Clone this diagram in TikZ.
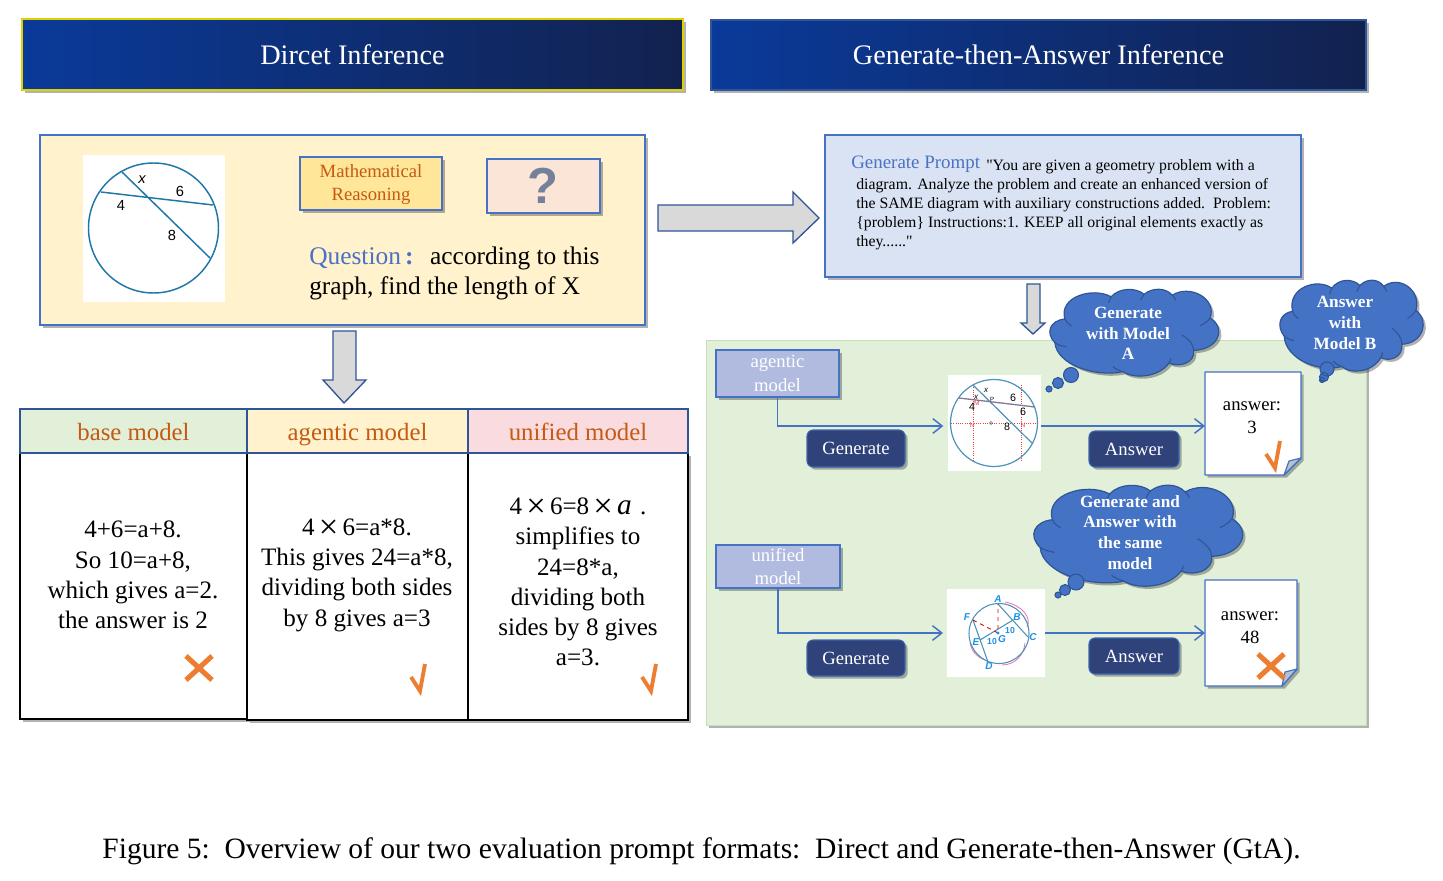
\documentclass[tikz,border=0pt]{standalone}
\usepackage{fontspec}
\setmainfont{Liberation Serif}
\newfontfamily\labelsans{Liberation Sans}
\newfontfamily\plainserif{Liberation Serif}
\usetikzlibrary{shadows,arrows.meta,calc}

\definecolor{edgeblue}{HTML}{4472C4}
\definecolor{darkedge}{HTML}{2F5597}
\definecolor{creamfill}{HTML}{FFF2CC}
\definecolor{goldfill}{HTML}{FFE699}
\definecolor{peachfill}{HTML}{FBE5D6}
\definecolor{mintfill}{HTML}{E2F0D9}
\definecolor{mintedge}{HTML}{C5E0B4}
\definecolor{pinkfill}{HTML}{FADBE0}
\definecolor{skyfill}{HTML}{DAE3F3}
\definecolor{lilacfill}{HTML}{B0BBDF}
\definecolor{navyfill}{HTML}{2F4279}
\definecolor{rusttext}{HTML}{C55A11}
\definecolor{promptblue}{HTML}{4A72C4}
\definecolor{markorange}{HTML}{ED7D31}
\definecolor{arrowgrey}{HTML}{D9D9D9}
\definecolor{circleblue}{HTML}{1F77A8}
\definecolor{auxred}{HTML}{F0404F}
\definecolor{letterblue}{HTML}{1E90E0}
\definecolor{arcpink}{HTML}{EE6FB0}
\definecolor{bannerleft}{HTML}{0A3A9A}
\definecolor{bannerright}{HTML}{12224F}
\definecolor{qgrey}{HTML}{75809A}

\newcommand{\widetimes}{\,\raisebox{-2.2pt}{\fontsize{26}{20}\selectfont ×}\,}

\tikzset{
  softshadow/.style={drop shadow={shadow xshift=2pt,shadow yshift=-2pt,fill=black,opacity=.3}},
  pxbox/.style={rectangle,inner sep=0pt,outer sep=0pt,align=center},
  panelbox/.style={pxbox,draw=edgeblue,line width=1.1pt,softshadow},
  bannerbox/.style={pxbox,line width=.8pt,left color=bannerleft,right color=bannerright,text=white,
    font=\fontsize{21.2}{25}\selectfont,softshadow},
  headerbox/.style={pxbox,draw=darkedge,line width=1.1pt,text=rusttext,text height=14pt,text depth=0pt,
    font=\fontsize{18.6}{22}\selectfont},
  bodybox/.style={pxbox,draw=black,line width=1.1pt,fill=white,softshadow},
  bodytext/.style={align=center,inner sep=0pt,font=\fontsize{18.8}{22.7}\selectfont},
  modelbox/.style={pxbox,draw=edgeblue,line width=1.3pt,fill=lilacfill,text=white,
    font=\fontsize{14}{17.5}\selectfont,softshadow},
  actionbox/.style={pxbox,rounded corners=4.5pt,draw=edgeblue!70!navyfill,line width=.8pt,fill=navyfill,text=white,
    font=\fontsize{14}{17}\selectfont,softshadow},
  blockarrow/.style={draw=darkedge,line width=1pt,fill=arrowgrey},
  flowline/.style={draw=edgeblue,line width=1.1pt,-{Straight Barb[length=7pt,width=11pt]}},
  cloudfill/.style={fill=edgeblue,draw=darkedge,line width=.9pt},
  cloudtext/.style={text=white,align=center,inner sep=0pt,font=\fontsize{12.9}{15.6}\selectfont\bfseries},
  notepage/.style={fill=white,draw=edgeblue,line width=1.1pt,line join=round,softshadow},
  notetext/.style={align=center,inner sep=0pt,font=\fontsize{14}{17.3}\selectfont},
  tickmark/.pic={\draw[markorange,line width=2.9pt,line join=miter] (-8,-1) -- (1,13) -- (6,-14);},
  crossmark/.pic={\draw[markorange,line width=3.8pt] (-13,-12) -- (13,12) (-13,12) -- (13,-12);},
  photo/.style={pxbox,fill=white},
  figlabel/.style={inner sep=0pt,font=\labelsans\fontsize{#1}{#1}\selectfont},
  ptlabel/.style={inner sep=0pt,text=auxred,font=\labelsans\fontsize{5}{5}\selectfont},
  letter/.style={inner sep=0pt,text=letterblue,font=\labelsans\fontsize{7.5}{8}\selectfont\bfseries\itshape},
}

% A rectangular node given by its pixel corners: name, style, x0, y0, x1, y1, text
\newcommand{\cornerbox}[7]{%
  \node[#2,anchor=north west,minimum width={(#5-#3)*0.75pt},minimum height={(#6-#4)*0.75pt}] (#1) at (#3,#4) {#7};%
}

% Thought-cloud outline filling the box (x0,y0)-(x1,y1), in a 0..100 local grid
\newcommand{\thoughtcloud}[4]{%
  \begin{scope}[shift={(#1,#2)},x={0.0075pt*(#3-#1)},y={-0.0075pt*(#4-#2)}]
    \path[cloudfill,softshadow] (3,62)
      .. controls (-3,50) and (0,36) .. (9,34)
      .. controls (5,8) and (26,-4) .. (37,8)
      .. controls (42,-3) and (52,-3) .. (57,5)
      .. controls (62,-3) and (70,-3) .. (74,6)
      .. controls (85,-7) and (101,10) .. (97,33)
      .. controls (107,45) and (102,70) .. (87,71)
      .. controls (88,86) and (78,91) .. (72,86)
      .. controls (65,104) and (50,104) .. (44,96)
      .. controls (28,103) and (4,88) .. (3,62) -- cycle;
    \draw[darkedge,line width=.8pt]
      (9,34) .. controls (10,38) and (11,40) .. (13,42)
      (37,8) .. controls (36,11) and (36,13) .. (35.5,15)
      (57,5) .. controls (56,8) and (55,10) .. (55,12)
      (74,6) .. controls (75,8) and (76,10) .. (76,12)
      (97,33) .. controls (95,38) and (93,40) .. (91,42)
      (87,71) .. controls (87,64) and (84,58) .. (80,53)
      (72,86) .. controls (73,84) and (73,82) .. (73,80)
      (44,96) .. controls (41,94) and (39,92) .. (38,90)
      (3,62) .. controls (5,65) and (8,66) .. (10,67);
  \end{scope}%
}

\begin{document}
\begin{tikzpicture}[x=0.75pt,y=-0.75pt]
\useasboundingbox (0,0) rectangle (1443,881);

% Title banners
\cornerbox{bannerL}{bannerbox,draw=yellow!70!olive}{22}{19}{683}{90}{Dircet Inference}
\cornerbox{bannerR}{bannerbox,draw=darkedge}{711}{20}{1366}{90}{Generate-then-Answer Inference}

% Question panel
\cornerbox{panelQ}{panelbox,fill=creamfill}{40}{135}{645}{325}{}
\cornerbox{photoQ}{photo}{83}{155}{225}{302}{}
\draw[circleblue,line width=1.1pt] (153.5,228) circle [radius=65];
\draw[circleblue,line width=1.1pt] (101,192) -- (213,205) (122,172) -- (210,258);
\node[figlabel=11] (lblX) at (142,180) {\itshape x};
\node[figlabel=11] (lblSix) at (180,191) {6};
\node[figlabel=11] (lblFour) at (121,205) {4};
\node[figlabel=11] (lblEight) at (172,235) {8};
\cornerbox{reason}{panelbox,fill=goldfill}{300}{157}{442}{210}{}
\node[align=center,inner sep=0pt,text=rusttext,font=\fontsize{14}{17.3}\selectfont] (reasonText) at (371,185) {Mathematical\\Reasoning};
\cornerbox{unknown}{panelbox,fill=peachfill}{487}{159}{600}{213}{}
\node[inner sep=0pt,text=qgrey,font=\labelsans\fontsize{38}{38}\selectfont\bfseries] (qmark) at (543,186) {?};
\node[anchor=west,align=left,inner sep=0pt,font=\fontsize{19.05}{22.6}\selectfont] (question) at (309,273)
  {{\color{promptblue}Question\,\textbf{:}}\hspace{.65em}according to this\\graph, find the length of X};

% Block arrows between the sections
\draw[blockarrow] (658,205) -- (793,205) -- (793,192) -- (819,218) -- (793,243) -- (793,231) -- (658,231) -- cycle;
\draw[blockarrow] (333,331) -- (356,331) -- (356,380) -- (366,380) -- (344,403) -- (323,380) -- (333,380) -- cycle;
\draw[blockarrow] (1027,284) -- (1040,284) -- (1040,323) -- (1045,323) -- (1033,334) -- (1021,323) -- (1027,323) -- cycle;

% Table of model results
\cornerbox{bodyA}{bodybox}{20}{453}{247}{719}{}
\cornerbox{bodyB}{bodybox}{247}{453}{468}{720}{}
\cornerbox{bodyC}{bodybox}{468}{453}{688}{720}{}
\cornerbox{headA}{headerbox,fill=mintfill}{20}{409}{247}{453}{base model}
\cornerbox{headB}{headerbox,fill=creamfill}{247}{409}{468}{453}{agentic model}
\cornerbox{headC}{headerbox,fill=pinkfill}{468}{409}{688}{453}{unified model}
\node[bodytext] (textA) at (133,575) {4+6=a+8.\\So 10=a+8,\\which gives a=2.\\the answer is 2};
\node[bodytext] (textB) at (357,575) {4\widetimes 6=a*8.\\This gives 24=a*8,\\dividing both sides\\by 8 gives a=3};
\node[bodytext] (textC) at (578,582) {4\widetimes 6=8\widetimes{\fontsize{22}{20}\selectfont\itshape a}\,\,.\\simplifies to\\24=8*a,\\dividing both\\sides by 8 gives\\a=3.};
\pic at (199,668) {crossmark};
\pic at (419,678) {tickmark};
\pic at (650,678) {tickmark};

% Generate prompt panel
\cornerbox{prompt}{panelbox,fill=skyfill}{825}{135}{1301}{277}{}
\node[anchor=base west,inner sep=0pt,text=promptblue,font=\fontsize{14.2}{17}\selectfont] (promptHead) at (851,168) {Generate Prompt};
\node[anchor=base west,inner sep=0pt,font=\plainserif\fontsize{11.85}{14}\selectfont] (promptFirst) at (986,170.5) {"You are given a geometry problem with a};
\node[anchor=north west,align=left,inner sep=0pt,font=\plainserif\fontsize{11.85}{14.3}\selectfont] (promptRest) at (856,178)
  {diagram. Analyze the problem and create an enhanced version of\\
   the SAME diagram with auxiliary constructions added.\ \ Problem:\\
   \{problem\} Instructions:1. KEEP all original elements exactly as\\
   they......"};

% Pipeline panel
\cornerbox{pipeline}{pxbox,fill=mintfill,draw=mintedge,line width=.6pt,softshadow}{706}{340}{1366}{725}{}

\cornerbox{modelA}{modelbox}{716}{350}{839}{397}{agentic\\model}
\cornerbox{modelB}{modelbox}{716}{545}{840}{588}{unified\\model}
\cornerbox{genA}{actionbox}{807}{430}{905}{467}{Generate}
\cornerbox{ansA}{actionbox}{1089}{431}{1179}{467}{Answer}
\cornerbox{genB}{actionbox}{807}{640}{905}{676}{Generate}
\cornerbox{ansB}{actionbox}{1089}{638}{1179}{674}{Answer}

% Diagram with auxiliary constructions, agentic model
\cornerbox{imgA}{photo}{948}{375}{1041}{471}{}
\draw[circleblue!80!white,line width=.9pt] (994,423) circle [radius=43.5];
\draw[auxred,densely dotted,line width=.7pt] (973,385) -- (973,461) (1021,385) -- (1021,460) (951,423) -- (1038,423);
\draw[circleblue!80!white,line width=.9pt] (959,398) -- (1035,407) (973,385) -- (1032,443);
\draw[auxred,densely dotted,line width=.7pt] (959,398) -- (1035,407);
\node[figlabel=6] (axA) at (986,390) {\itshape x};
\node[figlabel=6] (axB) at (976,397) {\itshape x};
\node[figlabel=4.5] (apP) at (992,399) {P};
\node[figlabel=8] (a6A) at (1013,398) {6};
\node[figlabel=8] (a6B) at (1023,412) {6};
\node[figlabel=8] (a4) at (972,407) {4};
\node[figlabel=8] (a8) at (1007,427) {8};
\node[ptlabel] (aM) at (977,403) {M};
\node[ptlabel] (aNA) at (972,425) {N};
\node[ptlabel] (aNB) at (1023,425) {N};
\draw[black!60,line width=.4pt] (991,423) circle [radius=1.6];

% Diagram with auxiliary constructions, unified model
\cornerbox{imgB}{photo}{947}{589}{1045}{677}{}
\draw[arcpink,line width=.6pt] (1005,602) .. controls (1022,605) and (1032,618) .. (1027,627);
\draw[arcpink,line width=.6pt] (1002,665) .. controls (1015,665) and (1024,655) .. (1025,643);
\draw[arcpink,line width=.6pt] (970,643) .. controls (972,652) and (977,657) .. (985,660);
\draw[circleblue!80!white,line width=.8pt] (999,633.5) circle [radius=30];
\draw[circleblue!80!white,line width=.8pt] (998,604) -- (1028,637) (1013,620) -- (980,640) (973,620) -- (988,662);
\draw[red!90!black,dashed,line width=.7pt] (973,620) -- (998,633) -- (998,604);
\fill[letterblue] (998,633) circle [radius=1.6];
\node[letter] (bA) at (998,599) {A};
\node[letter] (bF) at (967,617) {F};
\node[letter] (bB) at (1017,617) {B};
\node[letter] (bC) at (1033,637) {C};
\node[letter] (bE) at (976,642) {E};
\node[letter] (bG) at (1002,639) {G};
\node[letter] (bD) at (989,666) {D};
\node[letter,font=\labelsans\fontsize{6.5}{7}\selectfont\bfseries] (bTenA) at (1010,631) {10};
\node[letter,font=\labelsans\fontsize{6.5}{7}\selectfont\bfseries] (bTenB) at (992,642) {10};

% Answer pages with folded corners
\draw[notepage] (1205,372) -- (1301,372) -- (1301,458) -- (1284,475) -- (1205,475) -- cycle;
\draw[edgeblue,fill=black!15!skyfill,line width=.9pt,line join=round] (1301,458) -- (1289,461) -- (1284,475) -- cycle;
\coordinate (noteAw) at (1205,426);
\node[notetext] (noteA) at (1252,418) {answer:\\3};
\draw[notepage] (1205,580) -- (1297,580) -- (1297,669) -- (1282,686) -- (1205,686) -- cycle;
\draw[edgeblue,fill=black!15!skyfill,line width=.9pt,line join=round] (1297,669) -- (1285,672) -- (1282,686) -- cycle;
\coordinate (noteBw) at (1205,633);
\node[notetext] (noteB) at (1250,627.5) {answer:\\48};
\pic at (1274,455) {tickmark};
\pic at (1271,666) {crossmark};

% Flow connectors
\coordinate (elbowA) at (imgA.west |- noteAw);
\coordinate (elbowB) at (imgB.west |- noteBw);
\draw[flowline,shorten >=3.5pt] (modelA.south) |- (elbowA);
\draw[flowline] (imgA.east |- noteAw) -- (noteAw);
\draw[flowline,shorten >=3pt] (modelB.south) |- (elbowB);
\draw[flowline] (imgB.east |- noteBw) -- (noteBw);

% Thought clouds
\thoughtcloud{1050}{290}{1215}{375}
\fill[edgeblue,draw=darkedge,line width=.8pt] (1071,375) circle [radius=7.5] (1058,383) circle [radius=5.5] (1049,389) circle [radius=3];
\node[cloudtext] (cloudA) at (1128,333.5) {Generate\\with Model\\A};
\thoughtcloud{1280}{281}{1420}{370}
\fill[edgeblue,draw=darkedge,line width=.8pt] (1327,369) circle [radius=7] (1324,377) circle [radius=4.5] (1322,380) circle [radius=2.5];
\node[cloudtext] (cloudB) at (1345,323) {Answer\\with\\Model B};
\thoughtcloud{1034}{486}{1238}{585}
\fill[edgeblue,draw=darkedge,line width=.8pt] (1076,582) circle [radius=8] (1065,590) circle [radius=5.5] (1058,595) circle [radius=3];
\node[cloudtext] (cloudC) at (1130,532.5) {Generate and\\Answer with\\the same\\model};

% Caption
\node[inner sep=0pt,font=\fontsize{22.15}{26}\selectfont] (caption) at (701.5,851)
  {Figure 5:\ \ Overview of our two evaluation prompt formats:\ \ Direct and Generate-then-Answer (GtA).};
\end{tikzpicture}
\end{document}
